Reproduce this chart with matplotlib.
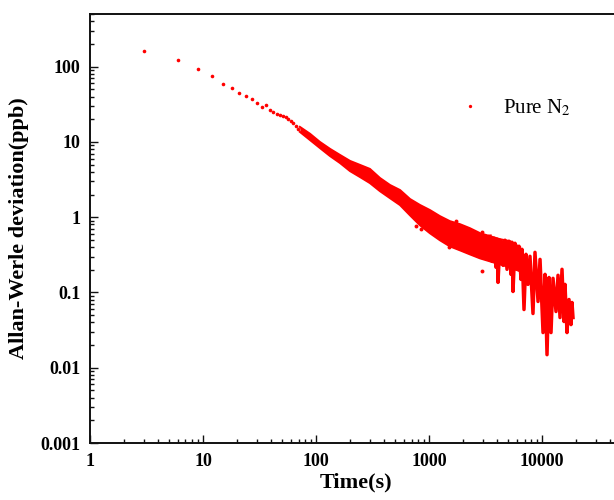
import matplotlib
matplotlib.use("Agg")
import matplotlib.pyplot as plt
from matplotlib.ticker import LogLocator, NullFormatter, FixedLocator, FixedFormatter
from matplotlib.lines import Line2D

plt.rcParams['font.family'] = ['Liberation Serif', 'DejaVu Serif']
plt.rcParams['mathtext.fontset'] = 'stix'

# --- sparse early points (tau in s, Allan deviation in ppb)
sparse_tau = [3, 6, 9, 12, 15, 18, 21, 24, 27, 30, 33, 36, 39, 42, 45, 48, 51, 54, 57, 60, 63, 66, 69]
sparse_dev = [160, 122, 93, 76, 59, 52, 44, 41, 36.6, 33, 29, 31, 26.7, 24.6, 23.5, 22.9, 22, 21.5, 20, 18.7, 17.9, 16.5, 14.9]

# --- dense band region: upper / lower envelope
band_tau = [72, 88.5, 108, 133, 163, 200, 245, 300, 368, 452, 554, 679, 832, 1020, 1250, 1530, 1880, 2300, 2830, 3470, 4250, 5210, 6390]
band_high = [15.8, 12.8, 10.0, 8.07, 6.7, 5.58, 4.94, 4.37, 3.31, 2.67, 2.29, 1.74, 1.45, 1.24, 1.03, 0.884, 0.806, 0.713, 0.612, 0.558, 0.509, 0.479, 0.398]
band_low = [13.6, 10.6, 8.33, 6.5, 5.25, 4.1, 3.42, 2.84, 2.22, 1.79, 1.45, 1.06, 0.782, 0.612, 0.494, 0.41, 0.363, 0.321, 0.284, 0.259, 0.236, 0.216, 0.191]

# --- oscillating tail (successive local maxima / minima)
tail_tau = [3467, 3610, 3760, 3917, 3999, 4080, 4249, 4519, 4707, 4900, 5105, 5317, 5428, 5538, 5768,
            6008, 6257, 6517, 6651, 6928, 7215, 7514, 7827, 8320, 8666, 9220, 9603, 10208, 10632,
            11073, 11534, 12013, 12512, 13300, 13855, 14430, 15030, 15655, 15977, 16640, 17331,
            18051, 18423, 18802]
tail_dev = [0.558, 0.259, 0.525, 0.216, 0.509, 0.136, 0.494, 0.229, 0.494, 0.203, 0.479, 0.174, 0.464, 0.103, 0.450,
            0.203, 0.411, 0.149, 0.374, 0.0593, 0.321, 0.128, 0.302, 0.0525, 0.341, 0.0759, 0.275, 0.0293, 0.174,
            0.0149, 0.158, 0.0293, 0.154, 0.0558, 0.169, 0.0464, 0.203, 0.0411, 0.128, 0.0293, 0.0806,
            0.0374, 0.0736, 0.0464]

# --- isolated outlier points
out_tau = [763, 845, 1295, 1734, 1503, 2944, 2924]
out_dev = [0.759, 0.692, 0.893, 0.877, 0.398, 0.191, 0.645]

y_ticks = [0.001, 0.01, 0.1, 1, 10, 100]
y_labels = ['0.001', '0.01', '0.1', '1', '10', '100']
x_ticks = [1, 10, 100, 1000, 10000]
x_labels = ['1', '10', '100', '1000', '10000']

RED = '#ff0000'

fig = plt.figure(figsize=(6.14, 5.0), dpi=100)
ax = fig.add_axes([90/614, 57/500, 531/614, 429/500])
ax.set_xscale('log')
ax.set_yscale('log')
ax.set_xlim(1, 50000)
ax.set_ylim(0.001, 500)

ax.plot(sparse_tau, sparse_dev, 'o', color=RED, ms=2.6, mec='none')
ax.fill_between(band_tau, band_low, band_high, color=RED, lw=0)
ax.plot(band_tau, band_high, color=RED, lw=1.5)
ax.plot(band_tau, band_low, color=RED, lw=1.5)
ax.plot(tail_tau, tail_dev, color=RED, lw=2.5, solid_joinstyle='round')
ax.plot(out_tau, out_dev, 'o', color=RED, ms=2.8, mec='none')

for s in ['top', 'bottom', 'left', 'right']:
    ax.spines[s].set_linewidth(1.4)
    ax.spines[s].set_color('#111111')

ax.xaxis.set_major_locator(FixedLocator(x_ticks))
ax.xaxis.set_major_formatter(FixedFormatter(x_labels))
ax.yaxis.set_major_locator(FixedLocator(y_ticks))
ax.yaxis.set_major_formatter(FixedFormatter(y_labels))
ax.xaxis.set_minor_locator(LogLocator(base=10, subs=range(2, 10), numticks=20))
ax.yaxis.set_minor_locator(LogLocator(base=10, subs=range(2, 10), numticks=20))
ax.xaxis.set_minor_formatter(NullFormatter())
ax.yaxis.set_minor_formatter(NullFormatter())

ax.tick_params(which='both', direction='in', top=False, right=False, width=1.0, color='#111111')
ax.tick_params(which='major', length=5.5, pad=7)
ax.tick_params(which='minor', length=3)
for lab in ax.get_xticklabels() + ax.get_yticklabels():
    lab.set_fontweight('bold')
    lab.set_fontsize(13)

ax.set_xlabel('Time(s)', fontsize=16, fontweight='bold', labelpad=2)
ax.set_ylabel('Allan-Werle deviation(ppb)', fontsize=16, fontweight='bold', labelpad=8)

handle = Line2D([], [], marker='o', color=RED, ls='none', ms=2.4, mec='none')
leg = ax.legend([handle], ['Pure N$_2$'], loc='center left',
                bbox_to_anchor=(460/614, 1 - 108/500), bbox_transform=fig.transFigure,
                frameon=False, fontsize=15, handlelength=1.0, handletextpad=1.05,
                borderpad=0, borderaxespad=0)

fig.savefig('out.png', dpi=100)
